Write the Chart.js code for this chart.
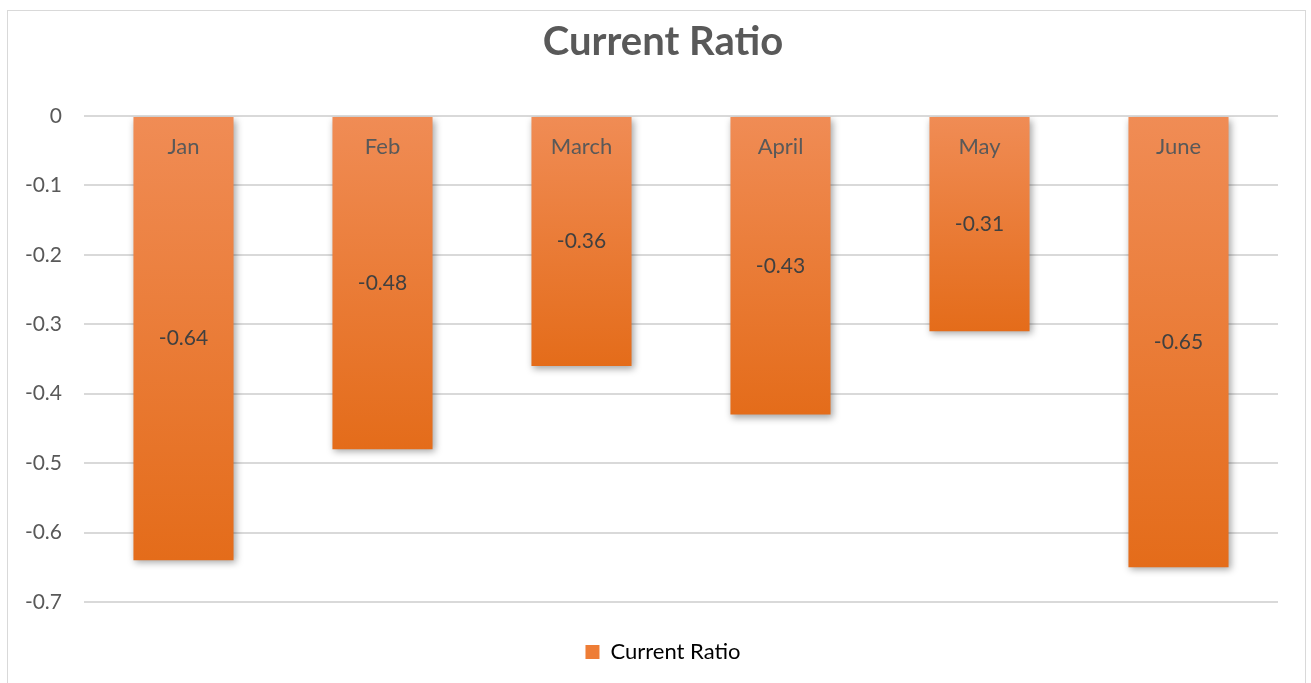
<!DOCTYPE html>
<html>
<head>
<meta charset="utf-8">
<script src="https://cdn.jsdelivr.net/npm/chart.js@4/dist/chart.umd.min.js"></script>
<style>
  html, body { margin: 0; padding: 0; background: #fff; overflow: hidden; }
  #frame { position: absolute; left: 7px; top: 10px; width: 1299px; height: 700px; border: 1px solid #d9d9d9; box-sizing: border-box; }
  #wrap { position: absolute; left: 0; top: 0; width: 1311px; height: 683px; }
</style>
</head>
<body>
<div id="frame"></div>
<div id="wrap"><canvas id="c"></canvas></div>
<script>
  var MESES = ["Jan", "Feb", "March", "April", "May", "June"];
  var VALORES = [-0.64, -0.48, -0.36, -0.43, -0.31, -0.65];
  var SERIE = "Current Ratio";
  var TITULO = "Current Ratio";

  var FONTE = "Lato, 'Open Sans', sans-serif";
  var CINZA = "#595959";

  // gradiente por barra: claro em cima (no zero), escuro em baixo
  function corBarra(ctx) {
    var chart = ctx.chart;
    if (!chart.chartArea || ctx.parsed == null) { return "#ee7d3a"; }
    var y = chart.scales.y;
    var y0 = y.getPixelForValue(0);
    var y1 = y.getPixelForValue(ctx.parsed.y);
    if (!isFinite(y0) || !isFinite(y1) || y1 === y0) { return "#ee7d3a"; }
    var g = chart.ctx.createLinearGradient(0, y0, 0, y1);
    g.addColorStop(0, "#f08c55");
    g.addColorStop(1, "#e46c1a");
    return g;
  }

  var sombra = {
    id: "sombra",
    beforeDatasetsDraw: function (chart) {
      var c = chart.ctx;
      c.save();
      c.shadowColor = "rgba(0,0,0,0.35)";
      c.shadowBlur = 7;
      c.shadowOffsetX = 2;
      c.shadowOffsetY = 3;
    },
    afterDatasetsDraw: function (chart) {
      chart.ctx.restore();
      var c = chart.ctx;
      var meta = chart.getDatasetMeta(0);
      var y0 = chart.scales.y.getPixelForValue(0);
      c.save();
      c.textAlign = "center";
      c.textBaseline = "middle";
      meta.data.forEach(function (bar, i) {
        c.font = "22px " + FONTE;
        c.fillStyle = CINZA;
        c.fillText(MESES[i], bar.x, y0 + 31);
        c.font = "21px " + FONTE;
        c.fillStyle = "#404040";
        c.fillText(VALORES[i].toFixed(2), bar.x, (bar.y + bar.base) / 2);
      });
      c.restore();
    }
  };

  new Chart(document.getElementById("c"), {
    type: "bar",
    data: {
      labels: MESES,
      datasets: [{
        label: SERIE,
        data: VALORES,
        backgroundColor: corBarra,
        borderWidth: 0,
        barPercentage: 0.503,
        categoryPercentage: 1,
      }],
    },
    plugins: [sombra],
    options: {
      responsive: true,
      maintainAspectRatio: false,
      animation: false,
      layout: { padding: { left: 15, right: 0, top: 0, bottom: 10 } },
      scales: {
        x: {
          ticks: { display: false },
          grid: { display: false },
          border: { display: false },
          afterFit: function (s) { s.height = 29; },
        },
        y: {
          min: -0.7,
          max: 0,
          ticks: {
            stepSize: 0.1,
            padding: 22,
            color: CINZA,
            font: { family: FONTE, size: 21 },
            callback: function (v) { return Math.round(v * 10) / 10; },
          },
          grid: { color: "#d9d9d9", lineWidth: 2, drawTicks: false },
          border: { display: false },
          afterFit: function (s) { s.width = 69; },
        },
        // eixo vazio à direita só para reservar a margem
        y2: {
          position: "right",
          min: -0.7,
          max: 0,
          ticks: { display: false },
          grid: { display: false },
          border: { display: false },
          afterFit: function (s) { s.width = 33; },
        },
      },
      plugins: {
        title: {
          display: true,
          text: TITULO,
          color: CINZA,
          font: { family: FONTE, size: 40, weight: "bold" },
          padding: { top: 18, bottom: 50 },
        },
        legend: {
          position: "bottom",
          labels: {
            boxWidth: 14,
            boxHeight: 14,
            color: CINZA,
            font: { family: FONTE, size: 22 },
            padding: 10,
            generateLabels: function (chart) {
              return [{ text: SERIE, fillStyle: "#ee7d36", strokeStyle: "#ee7d36", lineWidth: 0, datasetIndex: 0 }];
            },
          },
        },
        tooltip: { enabled: false },
      },
    },
  });
</script>
</body>
</html>
